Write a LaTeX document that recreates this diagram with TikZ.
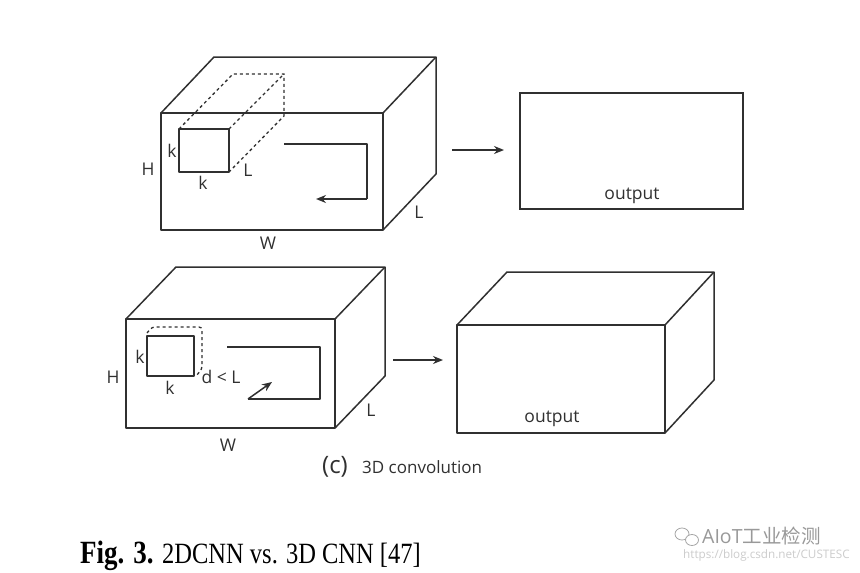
\documentclass[tikz,border=0pt]{standalone}
\usepackage{fontspec}
\setmainfont{Open Sans}
\newfontfamily\capfont{Liberation Serif}
\newfontfamily\cjk{Noto Sans CJK SC}
\usetikzlibrary{arrows.meta}
\definecolor{ln}{HTML}{303030}
\definecolor{tx}{HTML}{303030}
\begin{document}
\begin{tikzpicture}[x=1pt,y=-1pt,
  edge/.style={draw=ln,line width=1.5pt,line join=round},
  dashline/.style={draw=ln,line width=1.3pt,dash pattern=on 3pt off 3pt},
  arr/.style={draw=ln,line width=1.5pt,-{Stealth[length=10pt,width=8pt]}},
  lbl/.style={text=tx,font=\fontsize{17.5}{17.5}\selectfont,inner sep=0pt},
  capt/.style={inner sep=0pt,anchor=base west}]
\useasboundingbox (0,0) rectangle (860,573);
\fill[white] (0,0) rectangle (860,573);

% ---------- top: 2D input volume ----------
\coordinate (a1) at (161,113); \coordinate (a2) at (383,113);
\coordinate (a3) at (383,230); \coordinate (a4) at (161,230);
\coordinate (b1) at (214,57);  \coordinate (b2) at (436,57);
\coordinate (b3) at (436,174);
\draw[edge] (a1) -- (a2) -- (a3) -- (a4) -- cycle;
\draw[edge] (a1) -- (b1) -- (b2) -- (a2);
\draw[edge] (b2) -- (b3) -- (a3);
% kernel
\coordinate (k1) at (179,129); \coordinate (k2) at (229,129);
\coordinate (k3) at (229,172); \coordinate (k4) at (179,172);
\coordinate (kb1) at (233,74); \coordinate (kb2) at (284,74);
\coordinate (kb3) at (284,116);
\draw[dashline] (k1) -- (kb1) -- (kb2) -- (kb3) -- (k3);
\draw[dashline] (k2) -- (kb2);
\draw[edge,fill=white] (k1) rectangle (k3);
\node[lbl] (tk1) at (172,151) {k};
\node[lbl] (tk2) at (203,183) {k};
\node[lbl] (tl1) at (248,170) {L};
\node[lbl] (th) at (148,169) {H};
\node[lbl] (tl2) at (419,212) {L};
\node[lbl] (tw) at (268,243) {W};
% scan path
\coordinate (p1) at (284,144); \coordinate (p2) at (367,144);
\coordinate (p3) at (367,199); \coordinate (p4) at (316,199);
\draw[edge] (p1) -- (p2) -- (p3);
\draw[arr] (p3) -- (p4);
% arrow + output
\coordinate (ta1) at (452,150); \coordinate (ta2) at (504,150);
\draw[arr] (ta1) -- (ta2);
\node[draw=ln,line width=1.5pt,minimum width=223pt,minimum height=116pt,inner sep=0pt] (out1) at (631.5,151) {};
\node[lbl] (o1) at (632,196) {output};

% ---------- bottom: 3D input volume ----------
\coordinate (c1) at (126,319); \coordinate (c2) at (335,319);
\coordinate (c3) at (335,428); \coordinate (c4) at (126,428);
\coordinate (d1) at (176,267); \coordinate (d2) at (385,267);
\coordinate (d3) at (385,376);
\draw[edge] (c1) -- (c2) -- (c3) -- (c4) -- cycle;
\draw[edge] (c1) -- (d1) -- (d2) -- (c2);
\draw[edge] (d2) -- (d3) -- (c3);
% kernel
\coordinate (m1) at (147,336); \coordinate (m3) at (194,376);
\draw[dashline,rounded corners=3pt] (147,333) -- (152,327) -- (202,327) -- (202,369) -- (196,376);
\draw[edge,fill=white] (m1) rectangle (m3);
\node[lbl] (bk1) at (140,357) {k};
\node[lbl] (bk2) at (170,388) {k};
\node[lbl] (bdl) at (221,377) {d < L};
\node[lbl] (bh) at (113,377) {H};
\node[lbl] (bl) at (371,410) {L};
\node[lbl] (bw) at (228,445) {W};
% scan path
\coordinate (q1) at (227,347); \coordinate (q2) at (320,347);
\coordinate (q3) at (320,399); \coordinate (q4) at (248,399);
\coordinate (q5) at (272,382);
\draw[edge] (q1) -- (q2) -- (q3) -- (q4);
\draw[arr] (q4) -- (q5);
% arrow + output box
\coordinate (ba1) at (393,360); \coordinate (ba2) at (443,360);
\draw[arr] (ba1) -- (ba2);
\coordinate (e1) at (457,325); \coordinate (e2) at (665,325);
\coordinate (e3) at (665,433); \coordinate (e4) at (457,433);
\coordinate (f1) at (507,272); \coordinate (f2) at (714,272);
\coordinate (f3) at (714,380);
\draw[edge] (e1) -- (e2) -- (e3) -- (e4) -- cycle;
\draw[edge] (e1) -- (f1) -- (f2) -- (e2);
\draw[edge] (f2) -- (f3) -- (e3);
\node[lbl] (o2) at (552,419) {output};

% sub caption
\node[text=tx,inner sep=0pt,font=\fontsize{24}{24}\selectfont] (cc) at (335,467) {(c)};
\node[text=tx,inner sep=0pt,anchor=west,font=\fontsize{17}{17}\selectfont] (c3d) at (362,467) {3D convolution};

% figure caption
\node[capt] (fig) at (80,563) {\scalebox{1}[1.2]{\capfont\fontsize{27}{27}\selectfont\bfseries Fig. 3.}};
\node[capt] (figt) at (162,563) {\scalebox{1}[1.2]{\capfont\fontsize{24.5}{25}\selectfont 2DCNN vs. 3D CNN [47]}};

% watermark
\draw[gray!70,line width=0.8pt] (682,534) ellipse (7pt and 6pt);
\draw[gray!70,line width=0.8pt,fill=white] (692,540) ellipse (6.5pt and 5.5pt);
\node[inner sep=0pt,anchor=west,text=gray!80,font=\fontsize{19.5}{19.5}\selectfont] (wm1) at (702,536) {AIoT{\cjk 工业检测}};
\node[inner sep=0pt,anchor=west,text=gray!40,font=\fontsize{11.7}{12}\selectfont] (wm2) at (683,555) {https://blog.csdn.net/CUSTESC};
\end{tikzpicture}
\end{document}
